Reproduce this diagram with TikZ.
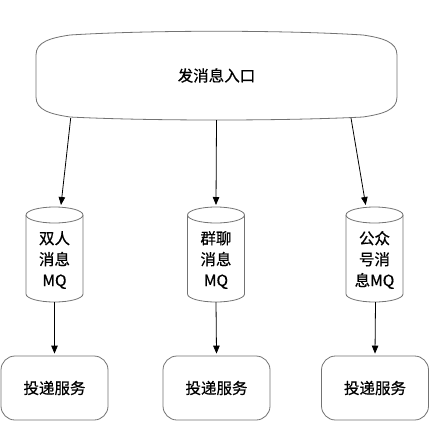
\documentclass[tikz,border=0pt]{standalone}
\usepackage{fontspec}
\setmainfont[FakeBold=0.6]{Noto Sans CJK SC}
\usetikzlibrary{arrows.meta}
\begin{document}
\begin{tikzpicture}[x=1pt,y=-1pt,
  shp/.style={draw=black!55,line width=0.8pt},
  lbl/.style={font=\fontsize{15.5}{21}\selectfont,align=center,inner sep=0pt},
  holder/.style={inner sep=0pt,outer sep=0pt},
  box/.style={shp,rounded corners=14pt,minimum width=107pt,minimum height=64pt,font=\fontsize{15.5}{21}\selectfont},
  arr/.style={draw=black,line width=0.8pt,-{Triangle[length=8pt,width=6.5pt]}}]
\fill[white] (0,0) rectangle (430,421);
\useasboundingbox (0,0) rectangle (430,421);
% top entry shape
\draw[shp,fill=white] (36,55) .. controls (36,42) and (50,38) .. (70,35)
  .. controls (150,30) and (283,30) .. (363,35)
  .. controls (383,38) and (397,42) .. (397,55) -- (397,97)
  .. controls (397,110) and (383,114) .. (363,117)
  .. controls (283,121) and (150,121) .. (70,117)
  .. controls (50,114) and (36,110) .. (36,97) -- cycle;
\node[holder,minimum width=361pt,minimum height=89pt] (src) at (216.5,75.5) {};
\node[lbl] (srct) at (216.5,75.5) {发消息入口};
% cylinders
\foreach \n/\cx/\txt in {c1/54.5/{双人\\消息\\MQ},c2/216/{群聊\\消息\\MQ},c3/374.5/{公众\\号消\\息MQ}}{
  \draw[shp,fill=white] (\cx-28.5,215) -- (\cx-28.5,294)
    arc[start angle=180,end angle=0,x radius=28.5,y radius=8] -- (\cx+28.5,215);
  \draw[shp,fill=white] (\cx,215) ellipse [x radius=28.5,y radius=8];
  \node[holder,minimum width=57pt,minimum height=95pt] (\n) at (\cx,254.5) {};
  \node[lbl] (\n t) at (\cx,260) {\txt};
}
% delivery boxes
\node[box] (b1) at (54.5,388) {投递服务};
\node[box] (b2) at (216.5,388) {投递服务};
\node[box] (b3) at (375,388) {投递服务};
% connectors
\draw[arr] ([xshift=-145.8pt,yshift=2pt]src.south) -- ([xshift=6.5pt,yshift=2pt]c1.north);
\draw[arr] (src.south) -- ([yshift=2pt]c2.north);
\draw[arr] ([xshift=134.5pt,yshift=2pt]src.south) -- ([xshift=-8.8pt,yshift=2pt]c3.north);
\draw[arr] (c1.south) -- ([yshift=2pt]b1.north);
\draw[arr] (c2.south) -- ([yshift=2pt]b2.north);
\draw[arr] ([xshift=1pt]c3.south) -- ([yshift=2pt]b3.north);
\end{tikzpicture}
\end{document}
